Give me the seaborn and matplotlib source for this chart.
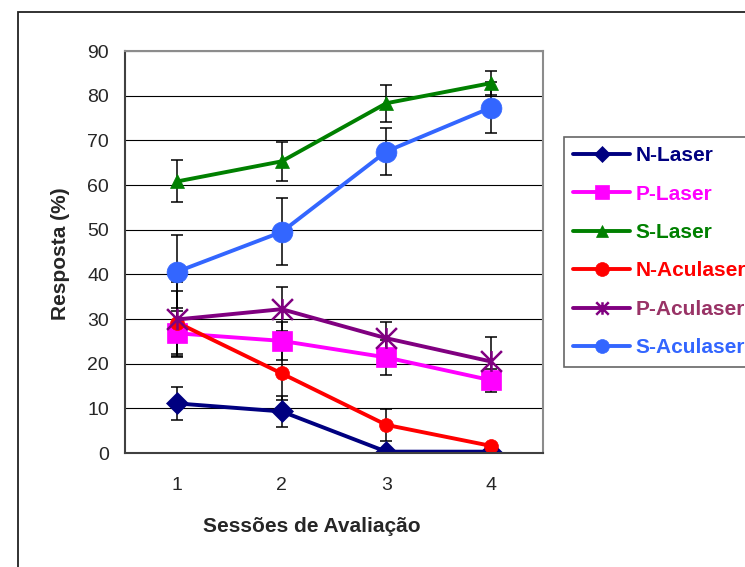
import matplotlib
matplotlib.use('Agg')
import matplotlib.pyplot as plt
from matplotlib.patches import Rectangle
from matplotlib.path import Path
import seaborn as sns

# Data
sessions = [1, 2, 3, 4]
series_names = ['N-Laser', 'P-Laser', 'S-Laser', 'N-Aculaser', 'P-Aculaser', 'S-Aculaser']
n_laser = [11.1, 9.3, 0.3, 0.3]
n_laser_err = [3.7, 3.4, 0.0, 0.0]
p_laser = [26.8, 25.1, 21.4, 16.3]
p_laser_err = [5.0, 4.2, 3.9, 2.6]
s_laser = [60.8, 65.3, 78.3, 82.8]
s_laser_err = [4.7, 4.3, 4.1, 2.7]
n_aculaser = [29.2, 17.8, 6.3, 1.6]
n_aculaser_err = [7.1, 6.0, 3.6, 0.0]
p_aculaser = [29.9, 32.2, 25.7, 20.5]
p_aculaser_err = [8.4, 4.9, 3.7, 5.4]
s_aculaser = [40.6, 49.5, 67.5, 77.3]
s_aculaser_err = [8.2, 7.5, 5.3, 5.7]
y_ticks = [0, 10, 20, 30, 40, 50, 60, 70, 80, 90]

values = [n_laser, p_laser, s_laser, n_aculaser, p_aculaser, s_aculaser]
errors = [n_laser_err, p_laser_err, s_laser_err, n_aculaser_err, p_aculaser_err, s_aculaser_err]

# Excel-like asterisk marker (X plus a vertical bar)
star = Path([(-1, -1), (1, 1), (-1, 1), (1, -1), (0, -1), (0, 1)],
            [Path.MOVETO, Path.LINETO, Path.MOVETO, Path.LINETO, Path.MOVETO, Path.LINETO])

colors = ['#000080', '#FF00FF', '#008000', '#FF0000', '#800080', '#3366FF']
text_colors = ['#000080', '#FF00FF', '#008000', '#FF0000', '#993366', '#3366FF']
markers = ['D', 's', '^', 'o', star, 'o']
marker_sizes = [11, 15, 10, 10, 15, 15]
legend_sizes = [8, 10, 9, 10, 9, 10]

sns.set_style('white')
plt.rcParams['font.family'] = ['Liberation Sans', 'DejaVu Sans']

fig = plt.figure(figsize=(7.45, 5.67), dpi=100)
ax = fig.add_axes([125 / 745, 1 - 453 / 567, 418 / 745, 402 / 567])

# Outer chart frame (runs off the right and bottom edges)
fig.patches.append(Rectangle((18 / 745, -0.1), 1.2, 1 - 12 / 567 + 0.1, transform=fig.transFigure,
                             fill=False, edgecolor='#222222', linewidth=1.3))

# Error bars first, lines and markers on top
for vals, errs in zip(values, errors):
    ax.errorbar(sessions, vals, yerr=errs, fmt='none', ecolor='black',
                elinewidth=1.1, capsize=4.5, capthick=1.1, zorder=1.5)

for name, vals, c, m, ms in zip(series_names, values, colors, markers, marker_sizes):
    hollow = m is star
    sns.lineplot(x=sessions, y=vals, ax=ax, color=c, linewidth=2.8, marker=m, markersize=ms,
                 markeredgecolor=c, markerfacecolor='none' if hollow else c,
                 markeredgewidth=1.8 if hollow else 0.5, label=name, zorder=2)

# Axes styling
ax.set_xlim(0.5, 4.5)
ax.set_ylim(0, 90)
ax.set_yticks(y_ticks)
ax.set_xticks(sessions)
ax.set_xticks([0.5, 1.5, 2.5, 3.5, 4.5], minor=True)
ax.tick_params(axis='x', which='major', length=0, pad=17, labelsize=14)
ax.tick_params(axis='x', which='minor', length=4.5, width=1.2, color='#404040', direction='out')
ax.tick_params(axis='y', length=4.5, width=1.2, color='#404040', direction='out', pad=7, labelsize=14)
ax.yaxis.grid(True, color='black', linewidth=0.8)
ax.set_axisbelow(True)
for side in ['left', 'bottom']:
    ax.spines[side].set_color('#404040')
    ax.spines[side].set_linewidth(1.5)
for side in ['top', 'right']:
    ax.spines[side].set_color('#8c8c8c')
    ax.spines[side].set_linewidth(1.5)

ax.set_xlabel('Sessões de Avaliação', fontsize=15, fontweight='bold', va='center')
ax.xaxis.set_label_coords(0.446, -0.183)
ax.set_ylabel('Resposta (%)', fontsize=15, fontweight='bold', va='center', ha='center')
ax.yaxis.set_label_coords(-0.1555, 0.495)

# Legend to the right, partly cut off by the image edge like the original
leg = ax.legend(loc='upper left', bbox_to_anchor=(564 / 745, 1 - 137 / 567),
                bbox_transform=fig.transFigure, borderaxespad=0, frameon=True, fancybox=False,
                prop={'size': 15, 'weight': 'bold'}, handlelength=2.7, handletextpad=0.3,
                borderpad=0.45, labelspacing=0.93)
leg.get_frame().set_edgecolor('#404040')
leg.get_frame().set_linewidth(1.2)
for text, tc in zip(leg.get_texts(), text_colors):
    text.set_color(tc)
for h, s in zip(leg.legend_handles, legend_sizes):
    h.set_markersize(s)

fig.savefig('out.png', dpi=100)
